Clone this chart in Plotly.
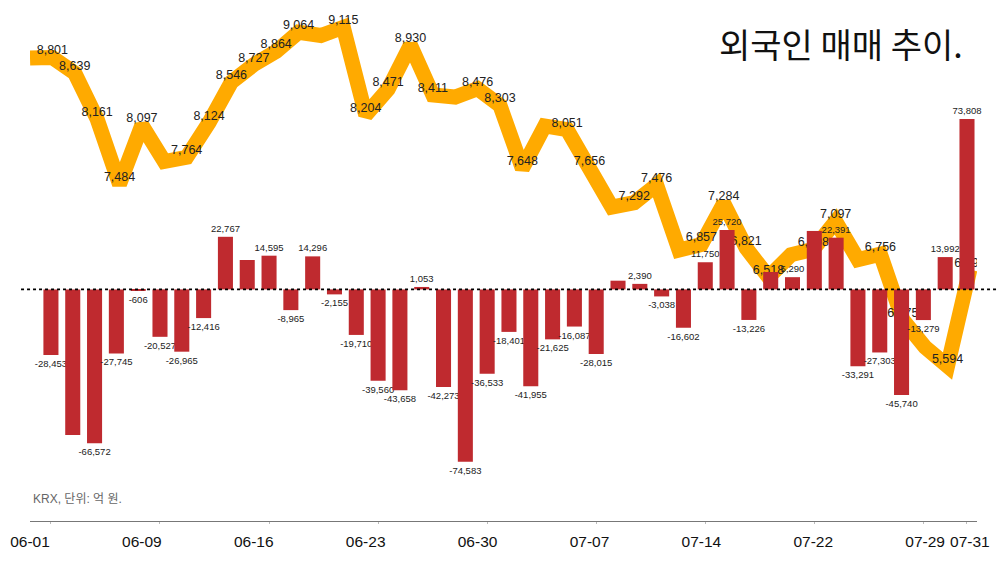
import plotly.graph_objects as go

# Trading days (MM-DD)
dates = ["06-01", "06-02", "06-04", "06-05", "06-08", "06-09", "06-10", "06-11", "06-12",
         "06-15", "06-16", "06-17", "06-18", "06-19", "06-22", "06-23", "06-24", "06-25",
         "06-26", "06-29", "06-30", "07-01", "07-02", "07-03", "07-06", "07-07", "07-08",
         "07-09", "07-10", "07-13", "07-14", "07-15", "07-16", "07-20", "07-21", "07-22",
         "07-23", "07-24", "07-27", "07-28", "07-29", "07-30", "07-31"]

# Orange line series
line_values = [8795, 8801, 8639, 8161, 7484, 8097, 7720, 7764, 8124, 8546, 8727, 8864,
               9064, 9030, 9115, 8204, 8471, 8930, 8411, 8390, 8476, 8303, 7648, 8090,
               8051, 7656, 7245, 7292, 7476, 6800, 6857, 7284, 6821, 6518, 6750, 6808,
               7097, 6700, 6756, 6075, 5790, 5594, 6596]

# Foreign net buying (억 원)
net_buy = [-28453, -63030, -66572, -27745, -606, -20527, -26965, -12416, 22767, 12730,
           14595, -8965, 14296, -2155, -19710, -39560, -43658, 1053, -42273, -74583,
           -36533, -18401, -41955, -21625, -16087, -28015, 3770, 2390, -3038, -16602,
           11750, 25720, -13226, 7530, 5290, 25300, 22391, -33291, -27303, -45740,
           -13279, 13992, 73808]

# labels not shown in the original (overlap)
hidden_line_labels = [0, 6, 13, 19, 23, 26, 29, 34, 37, 40]
hidden_bar_labels = [1, 9, 26, 33, 35]

tick_labels = ["06-01", "06-09", "06-16", "06-23", "06-30", "07-07", "07-14", "07-22",
               "07-29", "07-31"]

title_text = "외국인 매매 추이."
source_text = "KRX, 단위: 억 원."

line_text = ["" if i in hidden_line_labels else f"{v:,}" for i, v in enumerate(line_values)]
bar_text = ["" if i in hidden_bar_labels else f"{v:,}" for i, v in enumerate(net_buy)]

FONT = "Liberation Sans, Noto Sans CJK KR, sans-serif"
W, H = 1000, 563
ML, MR, MT, MB = 27, 23, 10, 42
PW = W - ML - MR

fig = go.Figure()

fig.add_trace(go.Scatter(
    x=dates, y=line_values, xaxis="x", yaxis="y",
    mode="lines+text", text=line_text, textposition="top center",
    textfont=dict(size=12.5, color="#222222", family=FONT),
    line=dict(color="#FFAA00", width=15),
    hoverinfo="skip", showlegend=False,
))

fig.add_trace(go.Bar(
    x=dates, y=net_buy, xaxis="x2", yaxis="y2",
    marker=dict(color="#BF2A2F", line=dict(width=0)),
    width=0.69,
    text=bar_text, textposition="outside", constraintext="none",
    textfont=dict(size=9.5, color="#222222", family=FONT),
    cliponaxis=False, textangle=0,
    hoverinfo="skip", showlegend=False,
))

# axis ranges (line on its own point scale, bars on a band scale)
line_step = 22.45
bar_step = 21.88
bar_first = 48
fig.update_layout(
    width=W, height=H,
    margin=dict(l=ML, r=MR, t=MT, b=MB),
    paper_bgcolor="white", plot_bgcolor="white",
    font=dict(family=FONT, color="#111111"),
    xaxis=dict(
        type="category", categoryorder="array", categoryarray=dates,
        range=[0, PW / line_step],
        tickmode="array", tickvals=tick_labels, ticktext=tick_labels,
        tickfont=dict(size=15.5, color="#111111", family=FONT),
        ticks="", showgrid=False, zeroline=False,
        showline=True, linecolor="#777777", linewidth=1.2,
        ticklabelstandoff=6,
    ),
    xaxis2=dict(
        type="category", categoryorder="array", categoryarray=dates,
        overlaying="x", anchor="y2", side="bottom",
        range=[-(bar_first - ML) / bar_step, -(bar_first - ML) / bar_step + PW / bar_step],
        tickmode="array", tickvals=tick_labels,
        showticklabels=False, ticks="outside", ticklen=2, tickcolor="#bbbbbb",
        showgrid=False, zeroline=False, showline=False,
    ),
    yaxis=dict(range=[3983, 9295], visible=False, showgrid=False, zeroline=False),
    yaxis2=dict(range=[-100260, 120950], overlaying="y", visible=False,
                showgrid=False, zeroline=False),
    bargap=0.3,
    shapes=[dict(
        type="line", xref="paper", x0=(18 - ML) / PW, x1=(997 - ML) / PW,
        yref="y2", y0=0, y1=0,
        line=dict(color="#000000", width=1.6, dash="dot"), layer="above",
    )],
    annotations=[
        dict(text=title_text, xref="paper", yref="paper",
             x=(965 - ML) / PW, y=(H - MB - 43) / (H - MT - MB),
             xanchor="right", yanchor="middle", showarrow=False,
             font=dict(size=34, color="#111111",
                       family="Noto Sans CJK KR, sans-serif")),
        dict(text=source_text, xref="paper", yref="paper",
             x=(28 - ML) / PW, y=(H - MB - 499) / (H - MT - MB),
             xanchor="left", yanchor="middle", showarrow=False,
             font=dict(size=12, color="#666666", family=FONT)),
    ],
)

fig.write_html("out.html", config={"displayModeBar": False},
               post_script="document.body.style.margin='0';")
